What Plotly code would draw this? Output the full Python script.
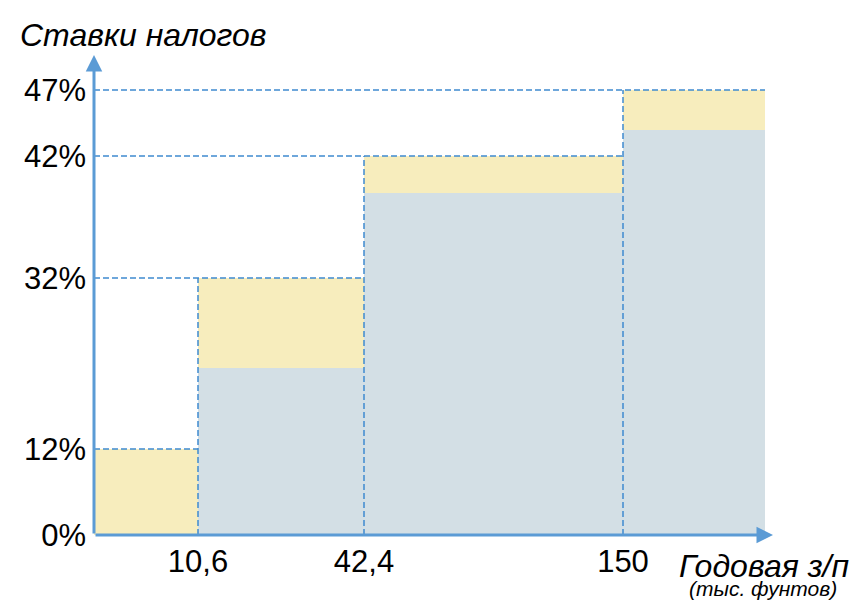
import numpy as np
import plotly.graph_objects as go

# ---------------- data ----------------
thresholds = [0, 10.6, 42.4, 150]                 # границы доходов, тыс. фунтов
x_tick_labels = ["10,6", "42,4", "150"]
rate_ticks = [0, 12, 32, 42, 47]                  # ставки, %
rate_tick_labels = ["0%", "12%", "32%", "42%", "47%"]
marginal_rates = [12, 32, 42, 47]                 # верх полосы (жёлтый)
effective_rates = [0, 21.5, 39, 44]               # нижняя часть (серо-голубая)

# ------------- schematic (non-linear) layout scale -------------
X_EDGES = [0, 104, 270, 529, 671]     # display positions of band edges
Y_KNOTS = [0, 86, 257, 379, 445]      # display positions of the rate ticks
X_RANGE = [0, 760]
Y_RANGE = [0, 535]
Y_ARROW_TIP = 480
X_ARROW_TIP = 679

def sy(v):
    return np.interp(v, rate_ticks, Y_KNOTS)

edges = np.array(X_EDGES, dtype=float)
mids = (edges[:-1] + edges[1:]) / 2
widths = np.diff(edges)

AXIS = "#5B9BD5"
DASH = "#3F8BD0"
YEL = "#F7EDBD"
BLU = "#D3DFE5"
FONT = "Liberation Sans, Arial, sans-serif"

fig = go.Figure()
fig.add_trace(go.Bar(x=mids, y=sy(marginal_rates), width=widths, base=0,
                     marker=dict(color=YEL, line=dict(width=0)), hoverinfo="skip"))
fig.add_trace(go.Bar(x=mids, y=sy(effective_rates), width=widths, base=0,
                     marker=dict(color=BLU, line=dict(width=0)), hoverinfo="skip"))

# dashed guide lines
for i, r in enumerate(marginal_rates):
    fig.add_trace(go.Scatter(x=[0, edges[i + 1]], y=[sy(r), sy(r)], mode="lines",
                             line=dict(color=DASH, width=1.5, dash="6px,3px"),
                             hoverinfo="skip"))
    if i > 0:
        fig.add_trace(go.Scatter(x=[edges[i], edges[i]], y=[0, sy(r)], mode="lines",
                                 line=dict(color=DASH, width=1.5, dash="6px,3px"),
                                 hoverinfo="skip"))

# axis arrows
fig.add_annotation(x=0, y=Y_ARROW_TIP, ax=0, ay=0, xref="x", yref="y",
                   axref="x", ayref="y", text="", showarrow=True,
                   arrowhead=2, arrowsize=1.1, arrowwidth=3, arrowcolor=AXIS)
fig.add_annotation(x=X_ARROW_TIP, y=0, ax=0, ay=0, xref="x", yref="y",
                   axref="x", ayref="y", text="", showarrow=True,
                   arrowhead=2, arrowsize=1.1, arrowwidth=3, arrowcolor=AXIS)

def px(xp):
    return (xp - 94) / 760

def py(yp):
    return (535 - yp) / 535

# axis titles
fig.add_annotation(x=px(18), y=py(35), xref="paper", yref="paper",
                   xanchor="left", yanchor="middle", showarrow=False,
                   text="<i>Ставки налогов</i>", font=dict(family=FONT, size=32, color="black"))
fig.add_annotation(x=px(851), y=py(566), xref="paper", yref="paper",
                   xanchor="right", yanchor="middle", showarrow=False,
                   text="<i>Годовая з/п</i>", font=dict(family=FONT, size=32, color="black"))
fig.add_annotation(x=px(763), y=py(588), xref="paper", yref="paper",
                   xanchor="center", yanchor="middle", showarrow=False,
                   text="<i>(тыс. фунтов)</i>", font=dict(family=FONT, size=21, color="black"))

fig.update_layout(
    width=854, height=600,
    margin=dict(l=94, r=0, t=0, b=65),
    paper_bgcolor="white", plot_bgcolor="white",
    barmode="overlay", bargap=0, showlegend=False,
    xaxis=dict(range=X_RANGE, showgrid=False, zeroline=False, showline=False,
               tickvals=edges[1:4], ticktext=x_tick_labels, ticks="",
               ticklabelstandoff=5,
               tickfont=dict(family=FONT, size=31, color="black"), fixedrange=True),
    yaxis=dict(range=Y_RANGE, showgrid=False, zeroline=False, showline=False,
               tickvals=sy(rate_ticks), ticktext=rate_tick_labels, ticks="",
               ticklabelstandoff=7,
               tickfont=dict(family=FONT, size=31, color="black"), fixedrange=True),
)

fig.write_html("out.html", config={"displayModeBar": False},
               post_script="document.body.style.margin='0';document.body.style.overflow='hidden';")
